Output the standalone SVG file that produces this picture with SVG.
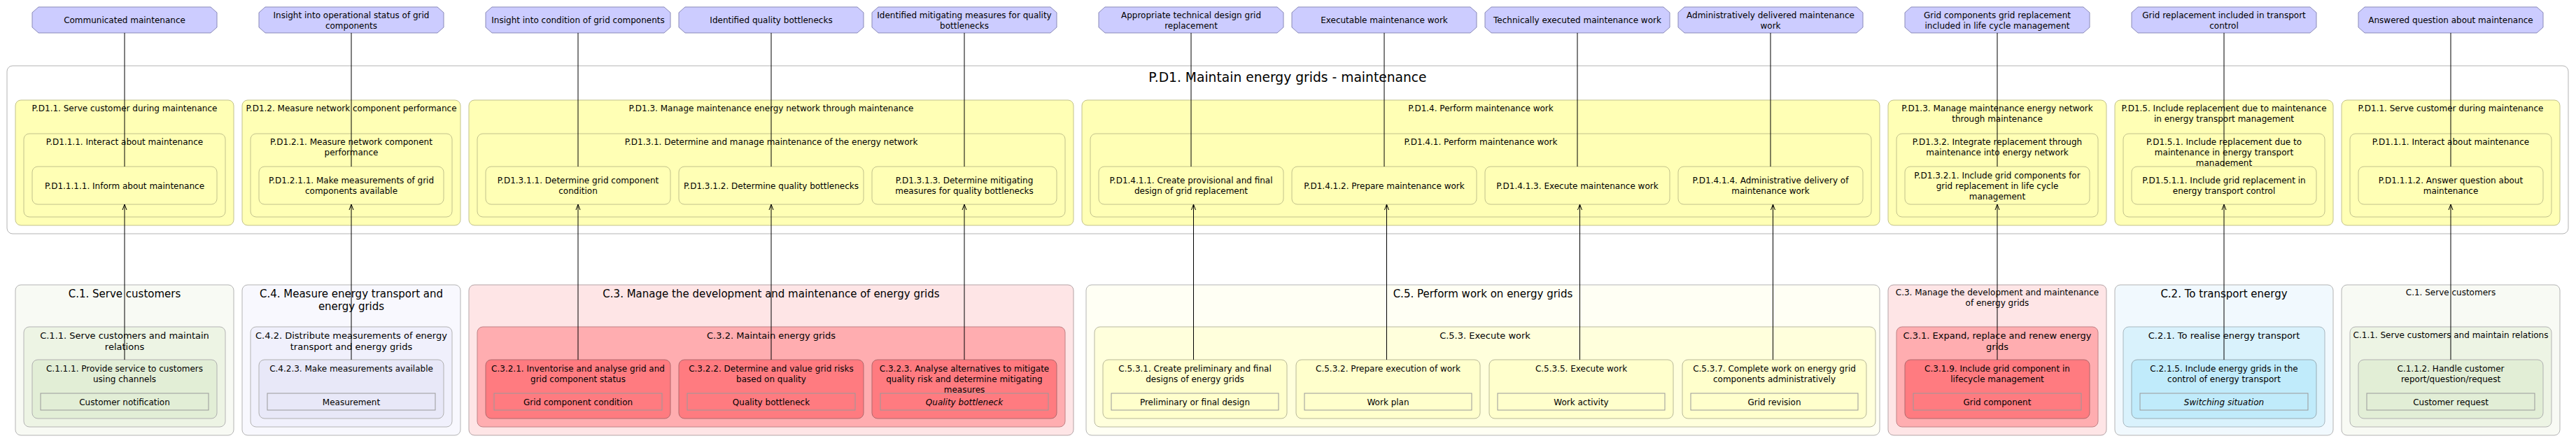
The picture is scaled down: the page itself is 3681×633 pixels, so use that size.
<svg xmlns="http://www.w3.org/2000/svg" width="3681" height="633" viewBox="0 0 3681 633">
<style>
text{font-family:"DejaVu Sans","Liberation Sans",sans-serif;fill:#000;text-anchor:middle;font-size:12px}
.t15{font-size:15px}.t13{font-size:13px}.t19{font-size:18.7px}
.it{font-style:italic}
.out{fill:#ccccff;stroke:#8a8ab8;stroke-width:1}
.frame{fill:#fff;stroke:#b4b4b4;stroke-width:1}
.y{fill:#ffffb5;stroke:#c2c28c;stroke-width:1}
.g1{fill:#f8faf4;stroke:#b4b4b4}.g2{fill:#edf4e4;stroke:#b4b4b4}.g3{fill:#e2eed6;stroke:#b0b0b0}
.p1{fill:#f8f8fe;stroke:#b4b4b4}.p2{fill:#f0f0fc;stroke:#b4b4b4}.p3{fill:#e8e8f8;stroke:#b0b0b0}
.r1{fill:#fee5e6;stroke:#b4a4a6}.r2{fill:#ffadb0;stroke:#c08286}.r3{fill:#ff7b80;stroke:#b0686c}
.l1{fill:#fffff4;stroke:#b4b4b4}.l2{fill:#ffffdc;stroke:#b8b8a0}.l3{fill:#ffffcc;stroke:#b8b898}
.b1{fill:#f1f9fe;stroke:#b4b4b4}.b2{fill:#d9f2fc;stroke:#a8b8c0}.b3{fill:#c0ebfb;stroke:#98acb4}
.obj{stroke:#999;stroke-width:1}
.c{stroke:#000;stroke-width:1;fill:none}
</style>
<defs>
<marker id="arr" viewBox="-10 -5 12 10" refX="0" refY="0" markerWidth="12" markerHeight="10" orient="auto" markerUnits="userSpaceOnUse"><path d="M-8,-3 L0,0 L-8,3" fill="none" stroke="#000" stroke-width="1"/></marker>
</defs>

<!-- Outcomes (top) -->
<g id="o1"><polygon class="out" points="55,10 301,10 310,18 310,39 301,47 55,47 46,39 46,18"/><text x="178" y="33">Communicated maintenance</text></g>
<g id="o2"><polygon class="out" points="379,10 625,10 634,18 634,39 625,47 379,47 370,39 370,18"/><text x="502" y="26">Insight into operational status of grid</text><text x="502" y="41">components</text></g>
<g id="o3"><polygon class="out" points="703,10 949,10 958,18 958,39 949,47 703,47 694,39 694,18"/><text x="826" y="33">Insight into condition of grid components</text></g>
<g id="o4"><polygon class="out" points="979,10 1225,10 1234,18 1234,39 1225,47 979,47 970,39 970,18"/><text x="1102" y="33">Identified quality bottlenecks</text></g>
<g id="o5"><polygon class="out" points="1255,10 1501,10 1510,18 1510,39 1501,47 1255,47 1246,39 1246,18"/><text x="1378" y="26">Identified mitigating measures for quality</text><text x="1378" y="41">bottlenecks</text></g>
<g id="o6"><polygon class="out" points="1579,10 1825,10 1834,18 1834,39 1825,47 1579,47 1570,39 1570,18"/><text x="1702" y="26">Appropriate technical design grid</text><text x="1702" y="41">replacement</text></g>
<g id="o7"><polygon class="out" points="1855,10 2101,10 2110,18 2110,39 2101,47 1855,47 1846,39 1846,18"/><text x="1978" y="33">Executable maintenance work</text></g>
<g id="o8"><polygon class="out" points="2131,10 2377,10 2386,18 2386,39 2377,47 2131,47 2122,39 2122,18"/><text x="2254" y="33">Technically executed maintenance work</text></g>
<g id="o9"><polygon class="out" points="2407,10 2653,10 2662,18 2662,39 2653,47 2407,47 2398,39 2398,18"/><text x="2530" y="26">Administratively delivered maintenance</text><text x="2530" y="41">work</text></g>
<g id="o10"><polygon class="out" points="2731,10 2977,10 2986,18 2986,39 2977,47 2731,47 2722,39 2722,18"/><text x="2854" y="26">Grid components grid replacement</text><text x="2854" y="41">included in life cycle management</text></g>
<g id="o11"><polygon class="out" points="3055,10 3301,10 3310,18 3310,39 3301,47 3055,47 3046,39 3046,18"/><text x="3178" y="26">Grid replacement included in transport</text><text x="3178" y="41">control</text></g>
<g id="o12"><polygon class="out" points="3379,10 3625,10 3634,18 3634,39 3625,47 3379,47 3370,39 3370,18"/><text x="3502" y="33">Answered question about maintenance</text></g>

<!-- Process P.D1 -->
<g id="PD1"><rect class="frame" x="10" y="94" width="3660" height="240" rx="8"/><text class="t19" x="1840" y="117">P.D1. Maintain energy grids - maintenance</text></g>

<g id="PD1.1"><rect class="y" x="22" y="143" width="312" height="179" rx="8"/><text x="178" y="158.5">P.D1.1. Serve customer during maintenance</text>
 <g id="PD1.1.1"><rect class="y" x="34" y="191" width="288" height="119" rx="8"/><text x="178" y="206.5">P.D1.1.1. Interact about maintenance</text>
  <g id="PD1.1.1.1"><rect class="y" x="46" y="238" width="264" height="54" rx="8"/><text x="178" y="269.5">P.D1.1.1.1. Inform about maintenance</text></g></g></g>

<g id="PD1.2"><rect class="y" x="346" y="143" width="312" height="179" rx="8"/><text x="502" y="158.5">P.D1.2. Measure network component performance</text>
 <g id="PD1.2.1"><rect class="y" x="358" y="191" width="288" height="119" rx="8"/><text x="502" y="206.5">P.D1.2.1. Measure network component</text><text x="502" y="221.5">performance</text>
  <g id="PD1.2.1.1"><rect class="y" x="370" y="238" width="264" height="54" rx="8"/><text x="502" y="262">P.D1.2.1.1. Make measurements of grid</text><text x="502" y="277">components available</text></g></g></g>

<g id="PD1.3a"><rect class="y" x="670" y="143" width="864" height="179" rx="8"/><text x="1102" y="158.5">P.D1.3. Manage maintenance energy network through maintenance</text>
 <g id="PD1.3.1"><rect class="y" x="682" y="191" width="840" height="119" rx="8"/><text x="1102" y="206.5">P.D1.3.1. Determine and manage maintenance of the energy network</text>
  <g id="PD1.3.1.1"><rect class="y" x="694" y="238" width="264" height="54" rx="8"/><text x="826" y="262">P.D1.3.1.1. Determine grid component</text><text x="826" y="277">condition</text></g>
  <g id="PD1.3.1.2"><rect class="y" x="970" y="238" width="264" height="54" rx="8"/><text x="1102" y="269.5">P.D1.3.1.2. Determine quality bottlenecks</text></g>
  <g id="PD1.3.1.3"><rect class="y" x="1246" y="238" width="264" height="54" rx="8"/><text x="1378" y="262">P.D1.3.1.3. Determine mitigating</text><text x="1378" y="277">measures for quality bottlenecks</text></g></g></g>

<g id="PD1.4"><rect class="y" x="1546" y="143" width="1140" height="179" rx="8"/><text x="2116" y="158.5">P.D1.4. Perform maintenance work</text>
 <g id="PD1.4.1"><rect class="y" x="1558" y="191" width="1116" height="119" rx="8"/><text x="2116" y="206.5">P.D1.4.1. Perform maintenance work</text>
  <g id="PD1.4.1.1"><rect class="y" x="1570" y="238" width="264" height="54" rx="8"/><text x="1702" y="262">P.D1.4.1.1. Create provisional and final</text><text x="1702" y="277">design of grid replacement</text></g>
  <g id="PD1.4.1.2"><rect class="y" x="1846" y="238" width="264" height="54" rx="8"/><text x="1978" y="269.5">P.D1.4.1.2. Prepare maintenance work</text></g>
  <g id="PD1.4.1.3"><rect class="y" x="2122" y="238" width="264" height="54" rx="8"/><text x="2254" y="269.5">P.D1.4.1.3. Execute maintenance work</text></g>
  <g id="PD1.4.1.4"><rect class="y" x="2398" y="238" width="264" height="54" rx="8"/><text x="2530" y="262">P.D1.4.1.4. Administrative delivery of</text><text x="2530" y="277">maintenance work</text></g></g></g>

<g id="PD1.3b"><rect class="y" x="2698" y="143" width="312" height="179" rx="8"/><text x="2854" y="158.5">P.D1.3. Manage maintenance energy network</text><text x="2854" y="173.5">through maintenance</text>
 <g id="PD1.3.2"><rect class="y" x="2710" y="191" width="288" height="119" rx="8"/><text x="2854" y="206.5">P.D1.3.2. Integrate replacement through</text><text x="2854" y="221.5">maintenance into energy network</text>
  <g id="PD1.3.2.1"><rect class="y" x="2722" y="238" width="264" height="54" rx="8"/><text x="2854" y="254.5">P.D1.3.2.1. Include grid components for</text><text x="2854" y="269.5">grid replacement in life cycle</text><text x="2854" y="284.5">management</text></g></g></g>

<g id="PD1.5"><rect class="y" x="3022" y="143" width="312" height="179" rx="8"/><text x="3178" y="158.5">P.D1.5. Include replacement due to maintenance</text><text x="3178" y="173.5">in energy transport management</text>
 <g id="PD1.5.1"><rect class="y" x="3034" y="191" width="288" height="119" rx="8"/><text x="3178" y="206.5">P.D1.5.1. Include replacement due to</text><text x="3178" y="221.5">maintenance in energy transport</text><text x="3178" y="236.5">management</text>
  <g id="PD1.5.1.1"><rect class="y" x="3046" y="238" width="264" height="54" rx="8"/><text x="3178" y="262">P.D1.5.1.1. Include grid replacement in</text><text x="3178" y="277">energy transport control</text></g></g></g>

<g id="PD1.1b"><rect class="y" x="3346" y="143" width="312" height="179" rx="8"/><text x="3502" y="158.5">P.D1.1. Serve customer during maintenance</text>
 <g id="PD1.1.1b"><rect class="y" x="3358" y="191" width="288" height="119" rx="8"/><text x="3502" y="206.5">P.D1.1.1. Interact about maintenance</text>
  <g id="PD1.1.1.2"><rect class="y" x="3370" y="238" width="264" height="54" rx="8"/><text x="3502" y="262">P.D1.1.1.2. Answer question about</text><text x="3502" y="277">maintenance</text></g></g></g>

<!-- Capabilities (bottom) -->
<g id="C1a"><rect class="g1" x="22" y="407" width="312" height="215" rx="8"/><text class="t15" x="178" y="424.5">C.1. Serve customers</text>
 <g id="C1.1a"><rect class="g2" x="34" y="467" width="288" height="143" rx="8"/><text class="t13" x="178" y="483.7">C.1.1. Serve customers and maintain</text><text class="t13" x="178" y="499.7">relations</text>
  <g id="C1.1.1"><rect class="g3" x="46" y="514" width="264" height="84" rx="8"/><text x="178" y="530.5">C.1.1.1. Provide service to customers</text><text x="178" y="545.5">using channels</text>
   <rect class="g3 obj" x="58" y="562" width="240" height="24"/><text x="178" y="578.5">Customer notification</text></g></g></g>

<g id="C4"><rect class="p1" x="346" y="407" width="312" height="215" rx="8"/><text class="t15" x="502" y="424.5">C.4. Measure energy transport and</text><text class="t15" x="502" y="442.5">energy grids</text>
 <g id="C4.2"><rect class="p2" x="358" y="467" width="288" height="143" rx="8"/><text class="t13" x="502" y="483.7">C.4.2. Distribute measurements of energy</text><text class="t13" x="502" y="499.7">transport and energy grids</text>
  <g id="C4.2.3"><rect class="p3" x="370" y="514" width="264" height="84" rx="8"/><text x="502" y="530.5">C.4.2.3. Make measurements available</text>
   <rect class="p3 obj" x="382" y="562" width="240" height="24"/><text x="502" y="578.5">Measurement</text></g></g></g>

<g id="C3a"><rect class="r1" x="670" y="407" width="864" height="215" rx="8"/><text class="t15" x="1102" y="424.5">C.3. Manage the development and maintenance of energy grids</text>
 <g id="C3.2"><rect class="r2" x="682" y="467" width="840" height="143" rx="8"/><text class="t13" x="1102" y="483.7">C.3.2. Maintain energy grids</text>
  <g id="C3.2.1"><rect class="r3" x="694" y="514" width="264" height="84" rx="8"/><text x="826" y="530.5">C.3.2.1. Inventorise and analyse grid and</text><text x="826" y="545.5">grid component status</text>
   <rect class="r3 obj" x="706" y="562" width="240" height="24"/><text x="826" y="578.5">Grid component condition</text></g>
  <g id="C3.2.2"><rect class="r3" x="970" y="514" width="264" height="84" rx="8"/><text x="1102" y="530.5">C.3.2.2. Determine and value grid risks</text><text x="1102" y="545.5">based on quality</text>
   <rect class="r3 obj" x="982" y="562" width="240" height="24"/><text x="1102" y="578.5">Quality bottleneck</text></g>
  <g id="C3.2.3"><rect class="r3" x="1246" y="514" width="264" height="84" rx="8"/><text x="1378" y="530.5">C.3.2.3. Analyse alternatives to mitigate</text><text x="1378" y="545.5">quality risk and determine mitigating</text><text x="1378" y="560.5">measures</text>
   <rect class="r3 obj" x="1258" y="562" width="240" height="24"/><text class="it" x="1378" y="578.5">Quality bottleneck</text></g></g></g>

<g id="C5"><rect class="l1" x="1552" y="407" width="1134" height="215" rx="8"/><text class="t15" x="2119" y="424.5">C.5. Perform work on energy grids</text>
 <g id="C5.3"><rect class="l2" x="1564" y="467" width="1116" height="143" rx="8"/><text class="t13" x="2122" y="483.7">C.5.3. Execute work</text>
  <g id="C5.3.1"><rect class="l3" x="1576" y="514" width="263" height="84" rx="8"/><text x="1707.5" y="530.5">C.5.3.1. Create preliminary and final</text><text x="1707.5" y="545.5">designs of energy grids</text>
   <rect class="l3 obj" x="1588" y="562" width="239" height="24"/><text x="1707.5" y="578.5">Preliminary or final design</text></g>
  <g id="C5.3.2"><rect class="l3" x="1852" y="514" width="263" height="84" rx="8"/><text x="1983.5" y="530.5">C.5.3.2. Prepare execution of work</text>
   <rect class="l3 obj" x="1864" y="562" width="239" height="24"/><text x="1983.5" y="578.5">Work plan</text></g>
  <g id="C5.3.5"><rect class="l3" x="2128" y="514" width="263" height="84" rx="8"/><text x="2259.5" y="530.5">C.5.3.5. Execute work</text>
   <rect class="l3 obj" x="2140" y="562" width="239" height="24"/><text x="2259.5" y="578.5">Work activity</text></g>
  <g id="C5.3.7"><rect class="l3" x="2404" y="514" width="263" height="84" rx="8"/><text x="2535.5" y="530.5">C.5.3.7. Complete work on energy grid</text><text x="2535.5" y="545.5">components administratively</text>
   <rect class="l3 obj" x="2416" y="562" width="239" height="24"/><text x="2535.5" y="578.5">Grid revision</text></g></g></g>

<g id="C3b"><rect class="r1" x="2698" y="407" width="312" height="215" rx="8"/><text x="2854" y="422">C.3. Manage the development and maintenance</text><text x="2854" y="437">of energy grids</text>
 <g id="C3.1"><rect class="r2" x="2710" y="467" width="288" height="143" rx="8"/><text class="t13" x="2854" y="483.7">C.3.1. Expand, replace and renew energy</text><text class="t13" x="2854" y="499.7">grids</text>
  <g id="C3.1.9"><rect class="r3" x="2722" y="514" width="264" height="84" rx="8"/><text x="2854" y="530.5">C.3.1.9. Include grid component in</text><text x="2854" y="545.5">lifecycle management</text>
   <rect class="r3 obj" x="2734" y="562" width="240" height="24"/><text x="2854" y="578.5">Grid component</text></g></g></g>

<g id="C2"><rect class="b1" x="3022" y="407" width="312" height="215" rx="8"/><text class="t15" x="3178" y="424.5">C.2. To transport energy</text>
 <g id="C2.1"><rect class="b2" x="3034" y="467" width="288" height="143" rx="8"/><text class="t13" x="3178" y="483.7">C.2.1. To realise energy transport</text>
  <g id="C2.1.5"><rect class="b3" x="3046" y="514" width="264" height="84" rx="8"/><text x="3178" y="530.5">C.2.1.5. Include energy grids in the</text><text x="3178" y="545.5">control of energy transport</text>
   <rect class="b3 obj" x="3058" y="562" width="240" height="24"/><text class="it" x="3178" y="578.5">Switching situation</text></g></g></g>

<g id="C1b"><rect class="g1" x="3346" y="407" width="312" height="215" rx="8"/><text x="3502" y="422">C.1. Serve customers</text>
 <g id="C1.1b"><rect class="g2" x="3358" y="467" width="288" height="143" rx="8"/><text x="3502" y="482.5">C.1.1. Serve customers and maintain relations</text>
  <g id="C1.1.2"><rect class="g3" x="3370" y="514" width="264" height="84" rx="8"/><text x="3502" y="530.5">C.1.1.2. Handle customer</text><text x="3502" y="545.5">report/question/request</text>
   <rect class="g3 obj" x="3382" y="562" width="240" height="24"/><text x="3502" y="578.5">Customer request</text></g></g></g>

<!-- Connectors -->
<g id="connectors">
<path class="c" d="M178,47V238"/><path class="c" d="M502,47V238"/><path class="c" d="M826,47V238"/><path class="c" d="M1102,47V238"/>
<path class="c" d="M1378,47V238"/><path class="c" d="M1702,47V238"/><path class="c" d="M1978,47V238"/><path class="c" d="M2254,47V238"/>
<path class="c" d="M2530,47V238"/><path class="c" d="M2854,47V238"/><path class="c" d="M3178,47V238"/><path class="c" d="M3502,47V238"/>
<path class="c" d="M178,514V292" marker-end="url(#arr)"/><path class="c" d="M502,514V292" marker-end="url(#arr)"/>
<path class="c" d="M826,514V292" marker-end="url(#arr)"/><path class="c" d="M1102,514V292" marker-end="url(#arr)"/>
<path class="c" d="M1378,514V292" marker-end="url(#arr)"/><path class="c" d="M1705.5,514V292" marker-end="url(#arr)"/>
<path class="c" d="M1981.5,514V292" marker-end="url(#arr)"/><path class="c" d="M2257.5,514V292" marker-end="url(#arr)"/>
<path class="c" d="M2533.5,514V292" marker-end="url(#arr)"/><path class="c" d="M2854,514V292" marker-end="url(#arr)"/>
<path class="c" d="M3178,514V292" marker-end="url(#arr)"/><path class="c" d="M3502,514V292" marker-end="url(#arr)"/>
</g>
</svg>
